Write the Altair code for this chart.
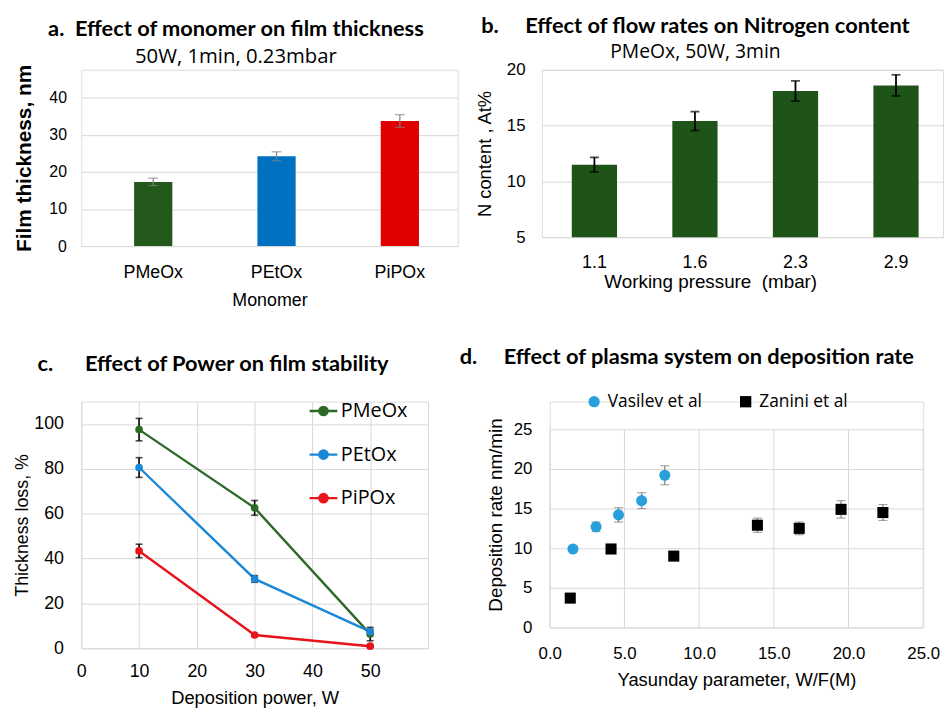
import altair as alt
import pandas as pd

# ---------------- data ----------------
# panel a
monomers = ["PMeOx", "PEtOx", "PiPOx"]
thickness = [17.3, 24.2, 33.7]
thickness_err = [1.0, 1.2, 1.7]
monomer_colors = ["#235a1c", "#0070c0", "#e00000"]
a_ticks = [0, 10, 20, 30, 40]

# panel b
pressures = ["1.1", "1.6", "2.3", "2.9"]
n_content = [11.5, 15.4, 18.1, 18.6]
n_content_err = [0.65, 0.85, 0.9, 0.95]
b_ticks = [5, 10, 15, 20]

# panel c
powers = [10, 30, 50]
loss_pmeox = [97.5, 62.6, 6.3]
loss_pmeox_err = [5.0, 3.3, 3.0]
loss_petox = [80.6, 30.9, 7.4]
loss_petox_err = [4.4, 1.5, 1.0]
loss_pipox = [43.4, 5.9, 0.9]
loss_pipox_err = [3.0, 0.5, 0.4]
series_c = ["PMeOx", "PEtOx", "PiPOx"]
series_c_colors = ["#2d6a27", "#1a88d6", "#e8141c"]
c_xticks = [0, 10, 20, 30, 40, 50, 60]
c_yticks = [0, 20, 40, 60, 80, 100]

# panel d
vas_x = [1.55, 3.1, 4.6, 6.15, 7.7]
vas_y = [9.9, 12.7, 14.2, 16.0, 19.2]
vas_err = [0.3, 0.6, 0.9, 1.0, 1.2]
zan_x = [1.37, 4.1, 8.3, 13.9, 16.7, 19.5, 22.3]
zan_y = [3.7, 9.9, 9.0, 12.9, 12.5, 14.9, 14.5]
zan_err = [0.3, 0.4, 0.4, 0.9, 0.8, 1.1, 1.0]
series_d = ["Vasilev et al", "Zanini et al"]
series_d_colors = ["#29a0dc", "#000000"]
d_ticks = [0, 5, 10, 15, 20, 25]

FONT = "Open Sans"
TFONT = "Lato"
LABEL_COLOR = "#404040"
GRID = "#d9d9d9"
NB = "\u00a0"

# ---------------- panel a ----------------
df_a = pd.DataFrame({
    "monomer": monomers,
    "value": thickness,
    "lo": [v - e for v, e in zip(thickness, thickness_err)],
    "hi": [v + e for v, e in zip(thickness, thickness_err)],
})
xa_scale = alt.Scale(paddingInner=0.69, paddingOuter=0.371, align=0.577)
xa_axis = alt.Axis(labelAngle=0, ticks=False, domain=False, labelPadding=18,
                   labelFontSize=18, titleFontSize=18, titlePadding=10,
                   titleFontWeight="normal")
ya_scale = alt.Scale(domain=[0, 47.5], nice=False)
ya_axis = alt.Axis(values=a_ticks, grid=True, gridColor=GRID, domain=False,
                   ticks=False, labelPadding=15, labelFontSize=16,
                   titleFontSize=21, titleFontWeight="bold", titleColor="black",
                   titlePadding=14)
YA_TITLE = "Film thickness, nm"
bars_a = alt.Chart(df_a).mark_bar().encode(
    x=alt.X("monomer:N", sort=monomers, title="Monomer", scale=xa_scale, axis=xa_axis),
    y=alt.Y("value:Q", scale=ya_scale, axis=ya_axis, title=YA_TITLE),
    color=alt.Color("monomer:N", scale=alt.Scale(domain=monomers, range=monomer_colors),
                    legend=None),
)
err_a = alt.Chart(df_a).mark_errorbar(ticks=True, size=10, thickness=1.2, color="#7f7f7f").encode(
    x=alt.X("monomer:N", sort=monomers, title="Monomer", scale=xa_scale, axis=xa_axis),
    y=alt.Y("lo:Q", scale=ya_scale, axis=ya_axis, title=YA_TITLE),
    y2="hi:Q",
)
panel_a = alt.layer(bars_a, err_a).properties(
    width=380, height=178,
    title=alt.TitleParams(
        text="a." + NB + " Effect of monomer on film thickness",
        subtitle="50W, 1min, 0.23mbar",
        font=TFONT, fontSize=22, fontWeight="bold", color="black",
        subtitleFont=FONT, subtitleFontSize=20.5, subtitleColor="black",
        subtitlePadding=6, anchor="middle", frame="bounds", offset=-4),
)

# ---------------- panel b ----------------
df_b = pd.DataFrame({
    "pressure": pressures,
    "value": n_content,
    "lo": [v - e for v, e in zip(n_content, n_content_err)],
    "hi": [v + e for v, e in zip(n_content, n_content_err)],
})
xb_scale = alt.Scale(paddingInner=0.55, paddingOuter=0.27, align=0.551)
xb_axis = alt.Axis(labelAngle=0, ticks=False, domain=False, labelPadding=17,
                   labelFontSize=18, titleFontSize=19, titlePadding=1,
                   titleFontWeight="normal", titleX=170, titleAlign="center")
yb_scale = alt.Scale(domain=[5, 20], nice=False, zero=False)
yb_axis = alt.Axis(values=b_ticks, grid=True, gridColor=GRID, domain=False,
                   ticks=False, labelPadding=17, labelFontSize=17,
                   titleFontSize=18.5, titleFontWeight="normal", titlePadding=12)
XB_TITLE = "Working pressure " + NB + "(mbar)"
YB_TITLE = "N content , At%"
bars_b = alt.Chart(df_b).mark_bar(color="#1f5418").encode(
    x=alt.X("pressure:N", sort=pressures, title=XB_TITLE, scale=xb_scale, axis=xb_axis),
    y=alt.Y("value:Q", scale=yb_scale, axis=yb_axis, title=YB_TITLE),
    y2=alt.datum(5),
)
err_b = alt.Chart(df_b).mark_errorbar(ticks=True, size=9, thickness=1.8, color="black").encode(
    x=alt.X("pressure:N", sort=pressures, title=XB_TITLE, scale=xb_scale, axis=xb_axis),
    y=alt.Y("lo:Q", scale=yb_scale, axis=yb_axis, title=YB_TITLE),
    y2="hi:Q",
)
panel_b = alt.layer(bars_b, err_b).properties(
    width=405, height=169,
    title=alt.TitleParams(
        text="b." + NB * 5 + "Effect of flow rates on Nitrogen content",
        subtitle="PMeOx, 50W, 3min",
        font=TFONT, fontSize=22, fontWeight="bold", color="black",
        subtitleFont=FONT, subtitleFontSize=19.5, subtitleColor="black",
        subtitlePadding=6, anchor="middle", frame="bounds", dx=-14, offset=-2),
)

# ---------------- panel c ----------------
rows_c = []
for name, vals, errs in [("PMeOx", loss_pmeox, loss_pmeox_err),
                         ("PEtOx", loss_petox, loss_petox_err),
                         ("PiPOx", loss_pipox, loss_pipox_err)]:
    for p, v, e in zip(powers, vals, errs):
        rows_c.append({"power": p, "value": v, "lo": v - e, "hi": v + e, "series": name})
df_c = pd.DataFrame(rows_c)
xc_scale = alt.Scale(domain=[0, 60], nice=False)
yc_scale = alt.Scale(domain=[0, 110], nice=False)
xc_axis = alt.Axis(values=c_xticks, grid=True, gridColor=GRID, labelFlush=False,
                   domain=False, ticks=False, labelPadding=15, labelFontSize=18,
                   titleFontSize=18.5, titlePadding=8, titleFontWeight="normal",
                   labelExpr="datum.value == 60 ? '' : datum.label")
yc_axis = alt.Axis(values=c_yticks, grid=True, gridColor=GRID,
                   domain=False, ticks=False, labelPadding=18, labelFontSize=18,
                   titleFontSize=18, titleFontWeight="normal", titlePadding=2)
XC_TITLE = "Deposition power, W"
YC_TITLE = "Thickness loss, %"
legend_path = "M-1,0L1,0M-0.3,0a0.3,0.3 0 1,0 0.6,0a0.3,0.3 0 1,0 -0.6,0"
color_c = alt.Color("series:N", scale=alt.Scale(domain=series_c, range=series_c_colors),
                    legend=alt.Legend(orient="none", legendX=229, legendY=-6, title=None,
                                      symbolType=legend_path, symbolSize=784,
                                      symbolStrokeWidth=2.4, labelFontSize=20,
                                      labelFont=FONT, labelColor="black",
                                      labelOffset=2, rowPadding=18))
xc = alt.X("power:Q", scale=xc_scale, axis=xc_axis, title=XC_TITLE)
line_c = alt.Chart(df_c).mark_line(strokeWidth=2.4).encode(
    x=xc,
    y=alt.Y("value:Q", scale=yc_scale, axis=yc_axis, title=YC_TITLE),
    color=color_c,
    detail="series:N",
)
pts_c = alt.Chart(df_c).mark_circle(size=60, opacity=1).encode(
    x=xc,
    y=alt.Y("value:Q", scale=yc_scale, axis=yc_axis, title=YC_TITLE),
    color=color_c,
)
err_c = alt.Chart(df_c).mark_errorbar(ticks=True, size=7, thickness=1.6, color="black").encode(
    x=xc,
    y=alt.Y("lo:Q", scale=yc_scale, axis=yc_axis, title=YC_TITLE),
    y2="hi:Q",
)
panel_c = alt.layer(line_c, err_c, pts_c).properties(
    width=350, height=249,
    title=alt.TitleParams(
        text="c." + NB * 6 + "Effect of Power on film stability",
        font=TFONT, fontSize=22, fontWeight="bold", color="black",
        anchor="middle", frame="bounds", dx=-8, offset=20),
)

# ---------------- panel d ----------------
rows_d = []
for name, xs, ys, es in [("Vasilev et al", vas_x, vas_y, vas_err),
                         ("Zanini et al", zan_x, zan_y, zan_err)]:
    for x, y, e in zip(xs, ys, es):
        rows_d.append({"w": x, "rate": y, "lo": y - e, "hi": y + e, "series": name})
df_d = pd.DataFrame(rows_d)
df_dgrid = pd.DataFrame({"t": d_ticks})
xd_scale = alt.Scale(domain=[0, 25], nice=False)
yd_scale = alt.Scale(domain=[0, 28.5], nice=False)
xd_axis = alt.Axis(values=d_ticks, format=".1f", grid=False, labelFlush=False,
                   domain=False, ticks=False, labelPadding=18, labelFontSize=17,
                   titleFontSize=18.5, titlePadding=10, titleFontWeight="normal")
yd_axis = alt.Axis(values=d_ticks, grid=True, gridColor=GRID,
                   domain=False, ticks=False, labelPadding=18, labelFontSize=17,
                   titleFontSize=19, titleFontWeight="normal", titlePadding=8)
XD_TITLE = "Yasunday parameter, W/F(M)"
YD_TITLE = "Deposition rate nm/min"
xd = alt.X("w:Q", scale=xd_scale, axis=xd_axis, title=XD_TITLE)
vgrid_d = alt.Chart(df_dgrid).mark_rule(color=GRID, strokeWidth=1).encode(
    x=alt.X("t:Q", scale=xd_scale, axis=xd_axis, title=XD_TITLE),
    y=alt.YDatum(d_ticks[0], scale=yd_scale, axis=yd_axis, title=YD_TITLE),
    y2=alt.datum(d_ticks[-1]),
)
err_d = alt.Chart(df_d).mark_errorbar(ticks=True, size=9, thickness=1.2, color="#7f7f7f").encode(
    x=xd,
    y=alt.Y("lo:Q", scale=yd_scale, axis=yd_axis, title=YD_TITLE),
    y2="hi:Q",
)
legend_d = alt.Legend(orient="none", legendX=36, legendY=-9, direction="horizontal",
                      title=None, labelFontSize=17.5, labelFont=FONT, labelColor="black",
                      symbolSize=130, columnPadding=35, labelOffset=5)
pts_d = alt.Chart(df_d).mark_point(filled=True, size=125, opacity=1).encode(
    x=xd,
    y=alt.Y("rate:Q", scale=yd_scale, axis=yd_axis, title=YD_TITLE),
    color=alt.Color("series:N", scale=alt.Scale(domain=series_d, range=series_d_colors),
                    legend=legend_d),
    shape=alt.Shape("series:N", scale=alt.Scale(domain=series_d, range=["circle", "square"]),
                    legend=legend_d),
)
panel_d = alt.layer(vgrid_d, err_d, pts_d).properties(
    width=377, height=228,
    title=alt.TitleParams(
        text="d." + NB * 5 + "Effect of plasma system on deposition rate",
        font=TFONT, fontSize=22, fontWeight="bold", color="black",
        anchor="start", frame="bounds", dx=-27, offset=24),
)

top = alt.hconcat(panel_a, panel_b, spacing=16).resolve_scale(color="independent")
bottom = alt.hconcat(panel_c, panel_d, spacing=30).resolve_scale(
    color="independent", shape="independent").resolve_legend(
    color="independent", shape="independent")

chart = alt.vconcat(top, bottom, spacing=35).resolve_scale(
    color="independent", shape="independent").properties(
    padding={"left": 5, "top": 3, "right": 0, "bottom": 0}
).configure_view(stroke=None).configure_axis(
    labelFont=FONT, titleFont=FONT, labelColor=LABEL_COLOR, titleColor=LABEL_COLOR,
).configure(background="white")

chart.save("out.html", embed_options={"renderer": "svg", "actions": False})
